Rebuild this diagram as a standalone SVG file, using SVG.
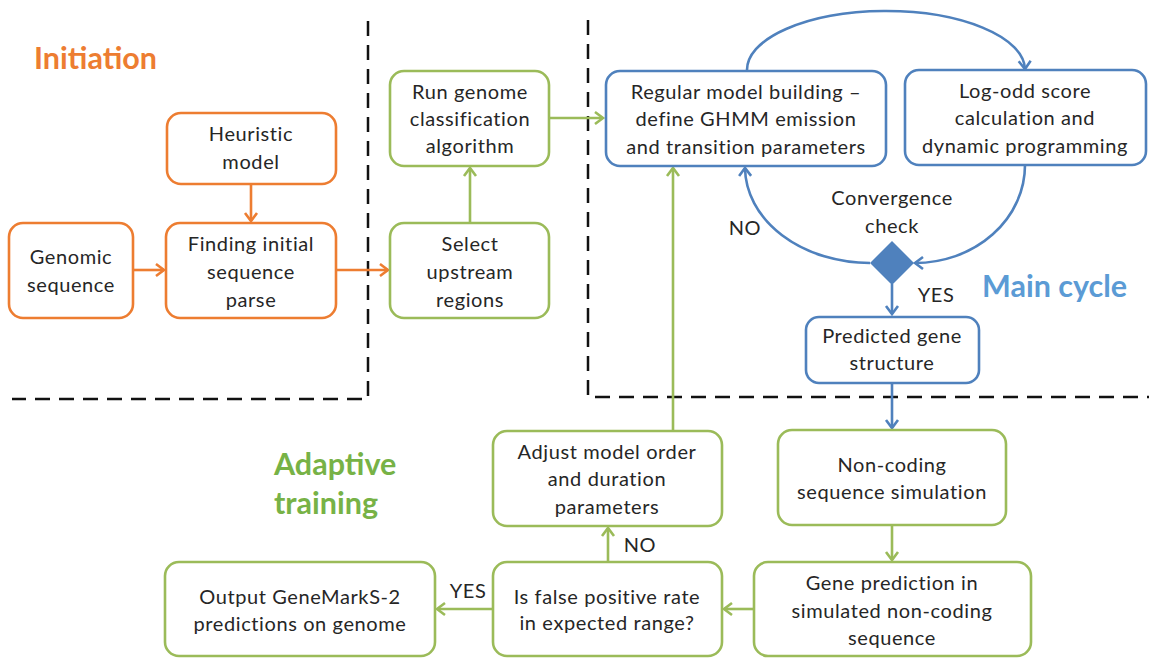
<svg xmlns="http://www.w3.org/2000/svg" width="1149" height="658" viewBox="0 0 1149 658">
<style>
text{font-family:Lato,"Open Sans","Liberation Sans",sans-serif;font-size:20px;letter-spacing:0.6px;fill:#262626;text-anchor:middle}
.title{font-weight:bold;font-size:30.5px;letter-spacing:0;text-anchor:start}
.box{fill:#fff;stroke-width:2.6}
.o{stroke:#ED7D31}.g{stroke:#9BBB59}.b{stroke:#4F81BD}
.c{fill:none;stroke-width:2.6}
.dash{fill:none;stroke:#111;stroke-width:2.5;stroke-dasharray:15 9}
</style>
<defs>
<marker id="ao" markerUnits="userSpaceOnUse" markerWidth="20" markerHeight="20" viewBox="-12 -10 14 20" refX="0" refY="0" orient="auto"><path d="M-8,-6 L0,0 L-8,6" fill="none" stroke="#ED7D31" stroke-width="2.6"/></marker>
<marker id="ag" markerUnits="userSpaceOnUse" markerWidth="20" markerHeight="20" viewBox="-12 -10 14 20" refX="0" refY="0" orient="auto"><path d="M-8,-6 L0,0 L-8,6" fill="none" stroke="#9BBB59" stroke-width="2.6"/></marker>
<marker id="ab" markerUnits="userSpaceOnUse" markerWidth="20" markerHeight="20" viewBox="-12 -10 14 20" refX="0" refY="0" orient="auto"><path d="M-8,-6 L0,0 L-8,6" fill="none" stroke="#4F81BD" stroke-width="2.6"/></marker>
</defs>
<rect width="1149" height="658" fill="#fff"/>
<g id="dividers">
<path class="dash" d="M368,21 V399 H12"/>
<path class="dash" d="M588,20 V397 H1149"/>
</g>
<g id="titles">
<text class="title" x="34" y="69" style="fill:#ED7D31">Initiation</text>
<text class="title" x="274" y="475" style="fill:#77B246">Adaptive</text>
<text class="title" x="274" y="514" style="fill:#77B246">training</text>
<text class="title" x="982" y="297" style="fill:#5B9BD5">Main cycle</text>
</g>
<g id="connectors">
<path class="c o" d="M133,270 H164" marker-end="url(#ao)"/>
<path class="c o" d="M251,184 V221" marker-end="url(#ao)"/>
<path class="c o" d="M336,270 H388" marker-end="url(#ao)"/>
<path class="c g" d="M470,223 V168" marker-end="url(#ag)"/>
<path class="c g" d="M549,118 H603" marker-end="url(#ag)"/>
<path class="c b" d="M747,71 A139,59 0 0 1 1025,69" marker-end="url(#ab)"/>
<path class="c b" d="M1025,165 A110,98 0 0 1 915,263" marker-end="url(#ab)"/>
<path class="c b" d="M870,263 A125,96 0 0 1 745,168" marker-end="url(#ab)"/>
<path class="c b" d="M892,284 V314" marker-end="url(#ab)"/>
<path class="c b" d="M892,383 V428" marker-end="url(#ab)"/>
<path class="c g" d="M892,525 V560" marker-end="url(#ag)"/>
<path class="c g" d="M754,609 H724" marker-end="url(#ag)"/>
<path class="c g" d="M493,609 H437" marker-end="url(#ag)"/>
<path class="c g" d="M608,562 V528" marker-end="url(#ag)"/>
<path class="c g" d="M673,431 V168" marker-end="url(#ag)"/>
<text x="745" y="235">NO</text>
<text x="936" y="302">YES</text>
<text x="640" y="552">NO</text>
<text x="468" y="598">YES</text>
</g>
<g id="heuristic"><rect class="box o" x="167" y="113" width="169" height="71" rx="14"/><text x="251" y="141">Heuristic</text><text x="251" y="169">model</text></g>
<g id="genomic"><rect class="box o" x="9" y="223" width="124" height="95" rx="14"/><text x="71" y="264">Genomic</text><text x="71" y="292">sequence</text></g>
<g id="finding"><rect class="box o" x="166" y="223" width="170" height="95" rx="14"/><text x="251" y="251">Finding initial</text><text x="251" y="279">sequence</text><text x="251" y="307">parse</text></g>
<g id="rungenome"><rect class="box g" x="390" y="71" width="159" height="95" rx="14"/><text x="470" y="99">Run genome</text><text x="470" y="126">classification</text><text x="470" y="153">algorithm</text></g>
<g id="select"><rect class="box g" x="390" y="223" width="159" height="95" rx="14"/><text x="470" y="251">Select</text><text x="470" y="279">upstream</text><text x="470" y="307">regions</text></g>
<g id="regular"><rect class="box b" x="606" y="71" width="280" height="95" rx="14"/><text x="746" y="99">Regular model building –</text><text x="746" y="126">define GHMM emission</text><text x="746" y="154">and transition parameters</text></g>
<g id="logodd"><rect class="box b" x="905" y="70" width="241" height="95" rx="14"/><text x="1025" y="98">Log-odd score</text><text x="1025" y="125">calculation and</text><text x="1025" y="153">dynamic programming</text></g>
<g id="convergence"><path d="M892,241 L914,263 L892,285 L870,263 Z" fill="#4F81BD"/><text x="892" y="205">Convergence</text><text x="892" y="233">check</text></g>
<g id="predicted"><rect class="box b" x="806" y="317" width="173" height="66" rx="13"/><text x="892" y="343">Predicted gene</text><text x="892" y="370">structure</text></g>
<g id="noncoding"><rect class="box g" x="778" y="430" width="228" height="95" rx="14"/><text x="892" y="472">Non-coding</text><text x="892" y="499">sequence simulation</text></g>
<g id="geneprediction"><rect class="box g" x="754" y="562" width="277" height="94" rx="14"/><text x="892" y="590">Gene prediction in</text><text x="892" y="618">simulated non-coding</text><text x="892" y="645">sequence</text></g>
<g id="isfalse"><rect class="box g" x="493" y="562" width="229" height="94" rx="14"/><text x="607" y="604">Is false positive rate</text><text x="607" y="630">in expected range?</text></g>
<g id="adjust"><rect class="box g" x="493" y="431" width="229" height="95" rx="14"/><text x="607" y="459">Adjust model order</text><text x="607" y="486">and duration</text><text x="607" y="514">parameters</text></g>
<g id="output"><rect class="box g" x="165" y="562" width="270" height="94" rx="14"/><text x="300" y="604">Output GeneMarkS-2</text><text x="300" y="631">predictions on genome</text></g>
</svg>
